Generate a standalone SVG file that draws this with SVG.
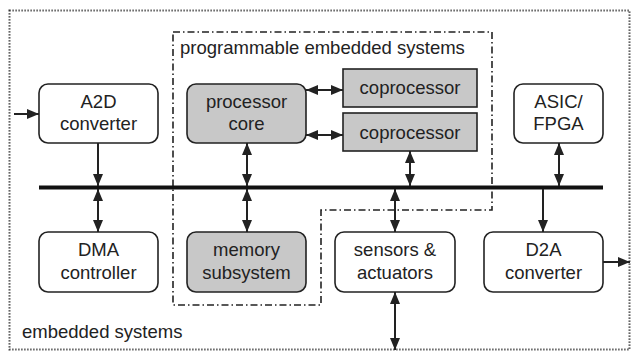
<svg xmlns="http://www.w3.org/2000/svg" width="633" height="353" viewBox="0 0 633 353">
<defs>
<style>
.box{fill:#fff;stroke:#222;stroke-width:1.6}
.gray{fill:#c8c8c8}
.t{font-family:"Liberation Sans",Arial,sans-serif;font-size:18.5px;fill:#222;text-anchor:middle}
.lbl{font-family:"Liberation Sans",Arial,sans-serif;font-size:18.5px;fill:#222}
.c{stroke:#222;stroke-width:2;fill:none}
</style>
<marker id="ah" viewBox="0 0 12 10" refX="12" refY="5" markerWidth="12" markerHeight="10" markerUnits="userSpaceOnUse" orient="auto-start-reverse">
<path d="M0,0 L12,5 L0,10 z" fill="#222"/>
</marker>
</defs>
<rect width="633" height="353" fill="#fff"/>
<g id="embedded-systems">
<rect x="9.5" y="10.5" width="620" height="339" fill="none" stroke="#333" stroke-width="2" stroke-dasharray="1.2 1.8"/>
<text class="lbl" x="22" y="338">embedded systems</text>
</g>
<g id="programmable-embedded-systems">
<path d="M173,32 H492 V210 H321 V305 H173 Z" fill="none" stroke="#222" stroke-width="1.6" stroke-dasharray="7 3 1.5 3"/>
<text class="lbl" x="180" y="54">programmable embedded systems</text>
</g>
<g id="bus">
<line x1="39" y1="187.5" x2="603" y2="187.5" stroke="#111" stroke-width="4"/>
</g>
<g id="a2d">
<rect class="box" x="39" y="84" width="119" height="59" rx="9"/>
<text class="t" x="98.5" y="108">A2D</text>
<text class="t" x="98.5" y="130">converter</text>
</g>
<g id="processor">
<rect class="box gray" x="187" y="84" width="119" height="59" rx="9"/>
<text class="t" x="246.5" y="108">processor</text>
<text class="t" x="246.5" y="130">core</text>
</g>
<g id="coprocessor1">
<rect class="box gray" x="343" y="69" width="134" height="38"/>
<text class="t" x="410" y="94">coprocessor</text>
</g>
<g id="coprocessor2">
<rect class="box gray" x="343" y="113" width="134" height="38"/>
<text class="t" x="410" y="139">coprocessor</text>
</g>
<g id="asic">
<rect class="box" x="514" y="84" width="89" height="59" rx="9"/>
<text class="t" x="558.5" y="108">ASIC/</text>
<text class="t" x="558.5" y="130">FPGA</text>
</g>
<g id="dma">
<rect class="box" x="39" y="232" width="119" height="60" rx="9"/>
<text class="t" x="98.5" y="256">DMA</text>
<text class="t" x="98.5" y="279">controller</text>
</g>
<g id="memory">
<rect class="box gray" x="187" y="232" width="119" height="60" rx="9"/>
<text class="t" x="246.5" y="256">memory</text>
<text class="t" x="246.5" y="279">subsystem</text>
</g>
<g id="sensors">
<rect class="box" x="335" y="232" width="120" height="60" rx="9"/>
<text class="t" x="395" y="256">sensors &amp;</text>
<text class="t" x="395" y="279">actuators</text>
</g>
<g id="d2a">
<rect class="box" x="484" y="232" width="119" height="60" rx="9"/>
<text class="t" x="543.5" y="256">D2A</text>
<text class="t" x="543.5" y="279">converter</text>
</g>
<g id="connectors">
<line class="c" x1="14" y1="114" x2="39" y2="114" marker-end="url(#ah)"/>
<line class="c" x1="98" y1="143" x2="98" y2="186" marker-end="url(#ah)"/>
<line class="c" x1="98" y1="189" x2="98" y2="232" marker-start="url(#ah)" marker-end="url(#ah)"/>
<line class="c" x1="247" y1="143" x2="247" y2="186" marker-start="url(#ah)" marker-end="url(#ah)"/>
<line class="c" x1="247" y1="189" x2="247" y2="232" marker-start="url(#ah)" marker-end="url(#ah)"/>
<line class="c" x1="306" y1="90" x2="343" y2="90" marker-start="url(#ah)" marker-end="url(#ah)"/>
<line class="c" x1="306" y1="135" x2="343" y2="135" marker-start="url(#ah)" marker-end="url(#ah)"/>
<line class="c" x1="410" y1="151" x2="410" y2="186" marker-start="url(#ah)" marker-end="url(#ah)"/>
<line class="c" x1="559" y1="143" x2="559" y2="186" marker-start="url(#ah)" marker-end="url(#ah)"/>
<line class="c" x1="395" y1="189" x2="395" y2="232" marker-start="url(#ah)" marker-end="url(#ah)"/>
<line class="c" x1="395" y1="292" x2="395" y2="350" marker-start="url(#ah)" marker-end="url(#ah)"/>
<line class="c" x1="543" y1="189" x2="543" y2="232" marker-end="url(#ah)"/>
<line class="c" x1="603" y1="262" x2="630" y2="262" marker-end="url(#ah)"/>
</g>
</svg>
